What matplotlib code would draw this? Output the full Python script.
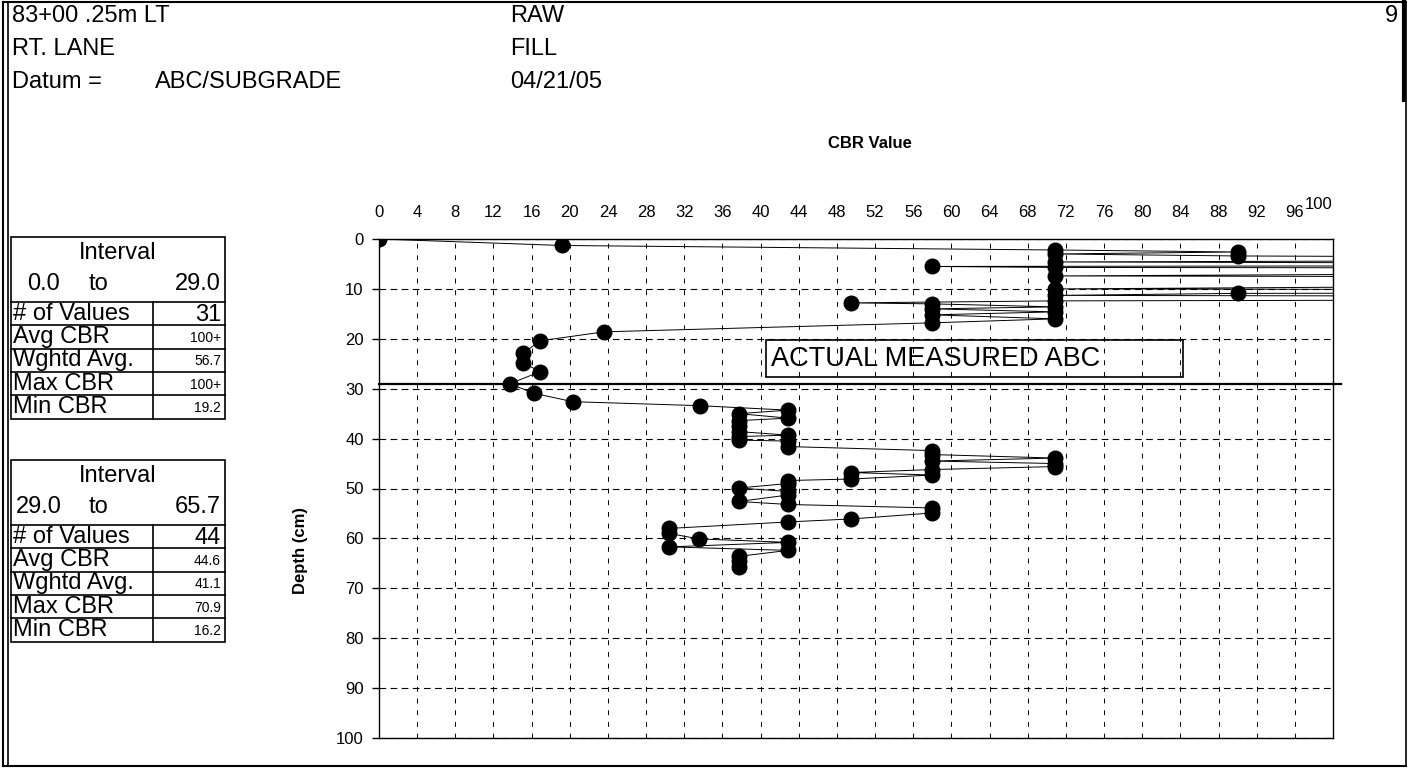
"""
DCP test sheet: CBR vs depth with interval summary tables.
Writes out.png (1409x770).
"""

import matplotlib

matplotlib.use("Agg")
import matplotlib.pyplot as plt
from matplotlib.lines import Line2D
from matplotlib.patches import Rectangle
from matplotlib.transforms import ScaledTranslation

plt.rcParams["font.family"] = ["Liberation Sans", "DejaVu Sans"]

# readings in test order; CBR > 100 runs off the right edge of the chart
depth_top = [0.0, 1.3, 2.2, 2.6, 3.0, 3.4, 4.0, 4.6, 5.2, 5.5, 5.7, 6.0, 7.4, 8.0,
             10.0, 10.5, 10.9, 11.3, 11.8, 12.4, 12.8, 13.0, 13.6, 14.0, 14.6,
             15.2, 16.0, 16.8, 18.6, 20.4, 22.9, 24.8, 26.6, 29.0]
cbr_top = [0.0, 19.2, 70.9, 90.0, 70.9, 90.0, 180, 70.9, 200, 58.0, 70.9, 220, 70.9, 250,
           70.9, 240, 90.0, 70.9, 230, 70.9, 49.5, 58.0, 70.9, 58.0, 70.9,
           58.0, 70.9, 58.0, 23.6, 16.9, 15.1, 15.1, 16.9, 13.7]

depth_bot = [30.9, 32.6, 33.4, 34.3, 35.0, 35.9, 36.4, 37.5, 38.6, 39.3, 39.6, 40.3,
             40.5, 41.6, 42.4, 43.2, 43.9, 44.5, 45.0, 45.6, 46.2, 46.8, 47.3, 48.1,
             48.4, 49.0, 49.9, 50.6, 51.3, 52.6, 53.2, 53.9, 54.9, 56.1, 56.7, 58.0,
             59.0, 60.1, 60.8, 61.7, 62.4, 63.6, 64.6, 65.7]
cbr_bot = [16.2, 20.3, 33.6, 42.9, 37.7, 42.9, 37.7, 37.7, 37.7, 42.9, 37.7, 37.7,
           42.9, 42.9, 58.0, 58.0, 70.9, 58.0, 70.9, 70.9, 58.0, 49.5, 58.0, 49.5,
           42.9, 42.9, 37.7, 42.9, 42.9, 37.7, 42.9, 58.0, 58.0, 49.5, 42.9, 30.4,
           30.4, 33.5, 42.9, 30.4, 42.9, 37.7, 37.7, 37.7]

x_ticks = list(range(0, 97, 4)) + [100]
y_ticks = list(range(0, 101, 10))
layer_depth = 29.0

header_left = ["83+00 .25m LT", "RT. LANE", "Datum ="]
datum = "ABC/SUBGRADE"
header_mid = ["RAW", "FILL", "04/21/05"]
page_no = "9"
note = "ACTUAL MEASURED ABC"

row_labels = ["# of Values", "Avg CBR", "Wghtd Avg.", "Max CBR", "Min CBR"]
table1_range = ["0.0", "29.0"]
table1_vals = ["31", "100+", "56.7", "100+", "19.2"]
table2_range = ["29.0", "65.7"]
table2_vals = ["44", "44.6", "41.1", "70.9", "16.2"]

W, H = 1409, 770


def fx(px):
    return px / W


def fy(py):
    return 1 - py / H


def fig_line(fig, xs, ys, lw=1.2):
    fig.add_artist(Line2D([fx(x) for x in xs], [fy(y) for y in ys],
                          transform=fig.transFigure, color="black", lw=lw))


def fig_box(fig, x0, y0, x1, y1, lw=1.2):
    fig.add_artist(Rectangle((fx(x0), fy(y1)), fx(x1) - fx(x0), fy(y0) - fy(y1),
                             transform=fig.transFigure, fill=False, ec="black", lw=lw))


def draw_table(fig, top, rng, vals, left_center):
    x0, xs, x1 = 11, 153, 225
    head, row = 65, 23.3
    bottom = top + head + row * len(row_labels)
    fig_box(fig, x0, top, x1, bottom)
    fig_line(fig, [x0, x1], [top + head] * 2)
    fig_line(fig, [xs, xs], [top + head, bottom])
    for i in range(1, len(row_labels)):
        y = top + head + row * i
        fig_line(fig, [x0, x1], [y, y])

    fig.text(fx(118), fy(top + 16), "Interval", fontsize=17, ha="center", va="center")
    fig.text(fx(left_center), fy(top + 47), rng[0], fontsize=17, ha="center", va="center")
    fig.text(fx(98), fy(top + 47), "to", fontsize=17, ha="center", va="center")
    fig.text(fx(221), fy(top + 47), rng[1], fontsize=17, ha="right", va="center")
    for i, (lab, val) in enumerate(zip(row_labels, vals)):
        y = top + head + row * (i + 0.5)
        fig.text(fx(13), fy(y), lab, fontsize=17, ha="left", va="center")
        fig.text(fx(221), fy(y + 1), val, fontsize=17 if i == 0 else 10,
                 ha="right", va="center")


def main():
    fig = plt.figure(figsize=(W / 100, H / 100), dpi=100)
    ax = fig.add_axes([fx(379), fy(738), fx(1333) - fx(379), fy(239) - fy(738)])

    depth = depth_top + depth_bot
    cbr = cbr_top + cbr_bot
    ax.plot(cbr, depth, color="black", lw=0.7, marker="o", ms=10.5,
            mfc="black", mec="black", zorder=3)
    ax.axhline(layer_depth, xmin=0, xmax=1.008, color="black", lw=1.6,
               clip_on=False, zorder=4)

    ax.set_xlim(0, 100)
    ax.set_ylim(100, 0)
    ax.xaxis.tick_top()
    ax.set_xticks(x_ticks)
    ax.set_yticks(y_ticks)
    ax.tick_params(axis="x", length=0, pad=14, labelsize=12)
    ax.tick_params(axis="y", length=5, width=1, pad=6, labelsize=12)
    ax.grid(True, axis="y", color="black", lw=0.8, ls=(0, (6, 4)))
    ax.grid(True, axis="x", color="black", lw=0.7, ls=(0, (5, 7)))
    for sp in ax.spines.values():
        sp.set_linewidth(1.0)
    # the last x label sits a little higher and further left on the original sheet
    last = ax.xaxis.get_major_ticks()[-1].label2
    last.set_transform(last.get_transform() + ScaledTranslation(-0.14, 0.08, fig.dpi_scale_trans))

    fig.text(fx(870), fy(143), "CBR Value", fontsize=12, fontweight="bold",
             ha="center", va="center")
    fig.text(fx(300), fy(550), "Depth (cm)", fontsize=12, fontweight="bold",
             rotation=90, ha="center", va="center")

    # header block
    for i, s in enumerate(header_left):
        fig.text(fx(12), fy(16 + 33 * i), s, fontsize=17, ha="left", va="center")
    fig.text(fx(155), fy(82), datum, fontsize=17, ha="left", va="center")
    for i, s in enumerate(header_mid):
        fig.text(fx(510), fy(16 + 33 * i), s, fontsize=17, ha="left", va="center")
    fig.text(fx(1398), fy(16), page_no, fontsize=17, ha="right", va="center")

    # note box inside the ABC layer
    fig_box(fig, 766, 340, 1183, 377, lw=1.2)
    fig.text(fx(771), fy(359), note, fontsize=19.5, ha="left", va="center")

    draw_table(fig, 237, table1_range, table1_vals, left_center=44)
    draw_table(fig, 460, table2_range, table2_vals, left_center=39)

    # page frame
    fig_line(fig, [3, 1406], [2, 2], lw=1.5)
    fig_line(fig, [3, 1406], [766, 766], lw=1.5)
    fig_line(fig, [3, 3], [2, 766], lw=1.5)
    fig_line(fig, [8, 8], [2, 766], lw=1.2)
    fig_line(fig, [1406, 1406], [2, 766], lw=1.2)
    fig_line(fig, [1404, 1404], [2, 100], lw=3)

    fig.savefig("out.png", dpi=100)
    plt.close(fig)


if __name__ == "__main__":
    main()
